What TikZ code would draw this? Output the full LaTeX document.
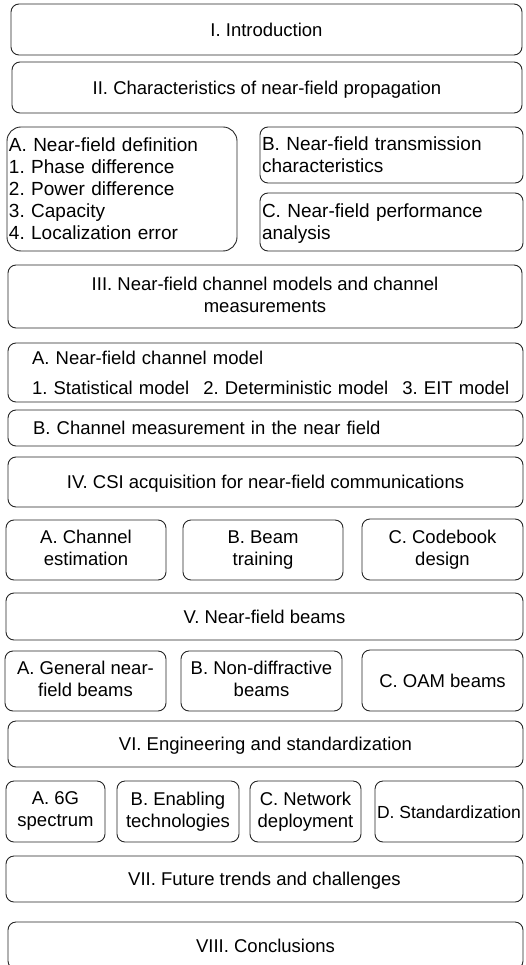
\documentclass[tikz,border=0pt]{standalone}
\usepackage{fontspec}
\setmainfont{Liberation Sans}
\frenchspacing
\begin{document}
\begin{tikzpicture}[x=1pt,y=-1pt,
  box/.style={draw=black!85, line width=0.9pt, rounded corners=8pt, inner sep=0pt,
    font=\fontsize{18.5}{22}\selectfont, align=center,
    execute at begin node={\rule{0pt}{17.8pt}}, execute at end node={\rule[-4.2pt]{0pt}{4.2pt}}},
  wh/.style 2 args={minimum width=#1pt, minimum height=#2pt},
  lefttext/.style={align=left, text width=#1pt},
  big/.style={font=\fontsize{19}{22}\selectfont}
]
\useasboundingbox (0,0) rectangle (526,965);
\clip (0,0) rectangle (526,965);

\node[box, wh={511}{51}] (intro) at (266.5,29.5) {I. Introduction};
\node[box, wh={510}{51}] (chars) at (267,87.5) {II. Characteristics of near-field propagation};

\node[box, big, wh={230}{124}, rounded corners=14pt, lefttext=226] (defn) at (122,189)
  {A. Near-field definition\\1. Phase difference\\2. Power difference\\3. Capacity\\4. Localization error};
\node[box, big, wh={263}{56}, lefttext=259] (trans) at (391.5,155)
  {B. Near-field transmission\\characteristics};
\node[box, big, wh={263}{58}, lefttext=259] (perf) at (391.5,222)
  {C. Near-field performance\\analysis};

\node[box, wh={514}{63}] (chan) at (265,296.5)
  {III. Near-field channel models and channel\\measurements};
\node[box, wh={515}{59}, lefttext=467] (model) at (265.5,372.5)
  {A. Near-field channel model\\[8pt]\mbox{1. Statistical model\hspace{14pt}2. Deterministic model\hspace{14pt}3. EIT model}};
\node[box, wh={515}{36}, lefttext=465] (meas) at (265.5,428)
  {B. Channel measurement in the near field};

\node[box, wh={515}{50}] (csi) at (265.5,482) {IV. CSI acquisition for near-field communications};
\node[box, wh={160}{60}] (est) at (86,550) {A. Channel\\estimation};
\node[box, wh={160}{60}] (train) at (263,550) {B. Beam\\training};
\node[box, wh={161}{61}] (code) at (442.5,549.5) {C. Codebook\\design};

\node[box, wh={517}{47}] (beams) at (264.5,616.5) {V. Near-field beams};
\node[box, wh={161}{60}] (gen) at (85.5,681) {A. General near-\\field beams};
\node[box, wh={161}{60}] (nondiff) at (261.5,681) {B. Non-diffractive\\beams};
\node[box, wh={161}{61}] (oam) at (442.5,680.5) {C. OAM beams};

\node[box, wh={515}{46}] (eng) at (265.5,744) {VI. Engineering and standardization};
\node[box, wh={99}{61}] (spec) at (55.5,811.5) {A. 6G\\spectrum};
\node[box, wh={122}{61}] (enab) at (178,811.5) {B. Enabling\\technologies};
\node[box, wh={111}{61}] (net) at (305.5,811.5) {C. Network\\deployment};
\node[box, wh={148}{61}, font=\fontsize{17.5}{21}\selectfont] (std) at (449,811.5) {D. Standardization};

\node[box, wh={517}{46}] (future) at (264.5,879) {VII. Future trends and challenges};
\node[box, wh={515}{47}] (concl) at (265.5,945.5) {VIII. Conclusions};
\end{tikzpicture}
\end{document}
